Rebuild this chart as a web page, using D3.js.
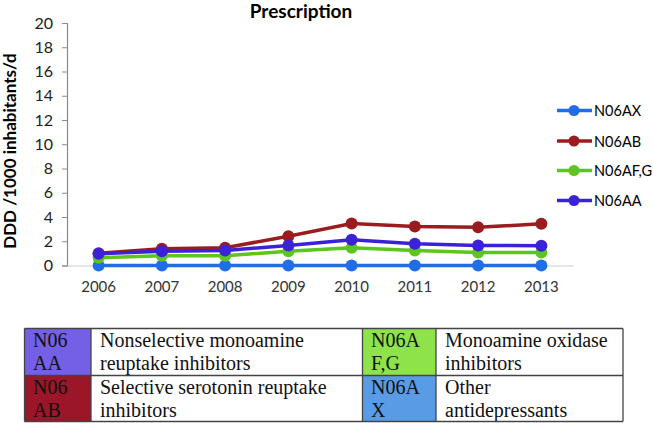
<!DOCTYPE html>
<html><head><meta charset="utf-8">
<script src="https://cdn.jsdelivr.net/npm/d3@7"></script>
<style>body{margin:0;background:#fff}svg{display:block}</style>
</head><body>
<script>
const years = ["2006","2007","2008","2009","2010","2011","2012","2013"];
const seriesNames = ["N06AX","N06AB","N06AF,G","N06AA"];
const seriesColors = ["#1f6ee8","#9b1c1f","#5ec41e","#3b22d8"];
const N06AX = [0,0,0,0,0,0,0,0];
const N06AB = [1.02,1.38,1.46,2.42,3.47,3.22,3.15,3.44];
const N06AFG = [0.64,0.80,0.80,1.18,1.46,1.24,1.08,1.07];
const N06AA = [0.96,1.18,1.24,1.65,2.12,1.79,1.65,1.63];
const seriesValues = [N06AX,N06AB,N06AFG,N06AA];
const yTicks = [0,2,4,6,8,10,12,14,16,18,20];
const tableRows = [
  [{code:["N06","AA"],color:"#7360e6",desc:["Nonselective monoamine","reuptake inhibitors"]},
   {code:["N06A","F,G"],color:"#8fe34a",desc:["Monoamine oxidase","inhibitors"]}],
  [{code:["N06","AB"],color:"#9a1628",desc:["Selective serotonin reuptake","inhibitors"]},
   {code:["N06A","X"],color:"#5a9be6",desc:["Other","antidepressants"]}]
];

const W=653,H=423;
const svg=d3.select("body").append("svg").attr("width",W).attr("height",H);
const pL=67,pR=573,pT=23,pB=265.5;
const x=d3.scaleBand().domain(years).range([pL,pR]);
const y=d3.scaleLinear().domain([0,20]).range([pB,pT]);
const font="Lato, 'Open Sans', sans-serif";

svg.append("text").attr("x",301).attr("y",18).attr("text-anchor","middle")
  .attr("font-family",font).attr("font-weight","bold").attr("font-size",19).attr("fill","#000").text("Prescription");

// y axis
const ya=svg.append("g").attr("transform",`translate(${pL},0)`)
  .call(d3.axisLeft(y).tickValues(yTicks).tickSize(5).tickPadding(9));
ya.select(".domain").attr("stroke","#8a8a8a").attr("stroke-width",1.2);
ya.selectAll(".tick line").attr("stroke","#8a8a8a");
ya.selectAll("text").attr("font-family",font).attr("font-size",16).attr("fill","#222");

// x baseline
const xa=svg.append("g").attr("transform",`translate(0,${pB})`)
  .call(d3.axisBottom(x).tickSize(0).tickPadding(16));
xa.select(".domain").attr("stroke","#c8d0d0").attr("stroke-width",1.2);
xa.selectAll("text").attr("font-family",font).attr("font-size",15).attr("fill","#333");

svg.append("text").attr("transform",`translate(16,151) rotate(-90)`).attr("text-anchor","middle")
  .attr("font-family",font).attr("font-weight","bold").attr("font-size",17).attr("fill","#000")
  .text("DDD /1000 inhabitants/d");

const line=d3.line().x((d,i)=>x(years[i])+x.bandwidth()/2).y(d=>y(d));
seriesValues.forEach((vals,si)=>{
  const g=svg.append("g");
  g.append("path").datum(vals).attr("d",line).attr("fill","none")
    .attr("stroke",seriesColors[si]).attr("stroke-width",3.5);
  g.selectAll("circle").data(vals).join("circle")
    .attr("cx",(d,i)=>x(years[i])+x.bandwidth()/2).attr("cy",d=>y(d)).attr("r",6)
    .attr("fill",seriesColors[si]);
});

// legend
const legY=[110.5,141,170.5,200.5];
seriesNames.forEach((n,i)=>{
  const g=svg.append("g").attr("transform",`translate(0,${legY[i]})`);
  g.append("line").attr("x1",557).attr("x2",592).attr("y1",0).attr("y2",0)
    .attr("stroke",seriesColors[i]).attr("stroke-width",3.5);
  g.append("circle").attr("cx",574).attr("cy",0).attr("r",5.5).attr("fill",seriesColors[i]);
  g.append("text").attr("x",594).attr("y",5.5).attr("font-family",font).attr("font-size",14.5)
    .attr("fill","#000").text(n);
});

// table
const colX=[24.5,91,362.5,436,623];
const rowY=[328.5,375.5,421.5];
const tf="'Liberation Serif', 'Times New Roman', serif";
tableRows.forEach((row,ri)=>{
  row.forEach((cell,ci)=>{
    const cx0=colX[ci*2], cx1=colX[ci*2+1];
    svg.append("rect").attr("x",cx0).attr("y",rowY[ri]).attr("width",cx1-cx0).attr("height",rowY[ri+1]-rowY[ri])
      .attr("fill",cell.color);
    cell.code.forEach((t,k)=>svg.append("text").attr("x",cx0+8.5).attr("y",rowY[ri]+18.5+k*22.5)
      .attr("font-family",tf).attr("font-size",20).attr("fill","#111").text(t));
    cell.desc.forEach((t,k)=>svg.append("text").attr("x",cx1+9).attr("y",rowY[ri]+18.5+k*22.5)
      .attr("font-family",tf).attr("font-size",20).attr("fill","#111").text(t));
  });
});
// grid lines
const gl=svg.append("g").attr("stroke","#444").attr("stroke-width",1.3).attr("fill","none");
rowY.forEach(yy=>gl.append("line").attr("x1",colX[0]).attr("x2",colX[4]).attr("y1",yy).attr("y2",yy));
colX.forEach(xx=>gl.append("line").attr("x1",xx).attr("x2",xx).attr("y1",rowY[0]).attr("y2",rowY[2]));
</script>
</body></html>
